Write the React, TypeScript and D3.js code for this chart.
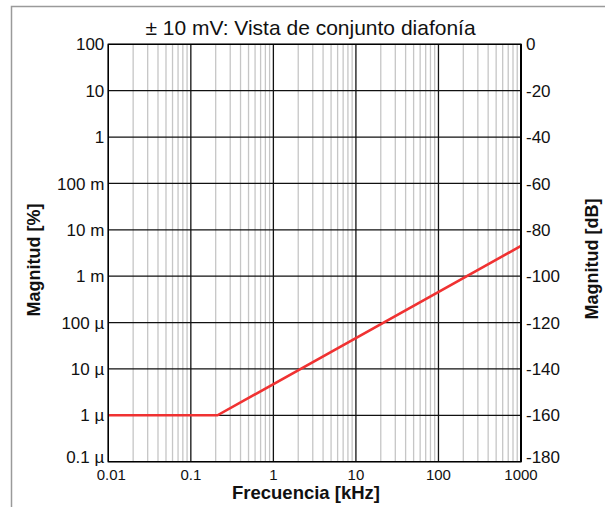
import React from "react";
import * as d3 from "d3";

const title = "± 10 mV: Vista de conjunto diafonía";
const xTitle = "Frecuencia [kHz]";
const yLeftTitle = "Magnitud [%]";
const yRightTitle = "Magnitud [dB]";

const xTickValues = [0.01, 0.1, 1, 10, 100, 1000];
const xTickLabels = ["0.01", "0.1", "1", "10", "100", "1000"];

const yTickValues = [100, 10, 1, 0.1, 0.01, 0.001, 1e-4, 1e-5, 1e-6, 1e-7];
const yTickLabels = ["100", "10", "1", "100 m", "10 m", "1 m", "100 µ", "10 µ", "1 µ", "0.1 µ"];
const dbTickLabels = ["0", "-20", "-40", "-60", "-80", "-100", "-120", "-140", "-160", "-180"];

// crosstalk curve (kHz, %)
const freqKHz = [0.01, 0.21, 1000];
const magnitudePct = [1e-6, 1e-6, 4.5e-3];

const W = 605;
const H = 507;
const M = { left: 108.3, right: 521, top: 44.3, bottom: 461.7 };
const FONT = "'Liberation Sans', Arial, Helvetica, sans-serif";

export default function App() {
  const x = d3.scaleLog().domain([0.01, 1000]).range([M.left, M.right]);
  const y = d3.scaleLog().domain([1e-7, 100]).range([M.bottom, M.top]);

  const minorX: number[] = [];
  for (let e = -2; e < 3; e++) {
    for (let k = 2; k <= 9; k++) minorX.push(k * Math.pow(10, e));
  }

  const line = d3
    .line<number>()
    .x((_, i) => x(freqKHz[i]))
    .y((d) => y(d));

  const nY = yTickValues.length;

  return (
    <svg
      width={W}
      height={H}
      style={{ position: "absolute", left: 0, top: 0, background: "#fff" }}
      fontFamily={FONT}
    >
      <rect x={11.5} y={6.5} width={620} height={520} fill="none" stroke="#9a9a9a" strokeWidth={1.5} />

      {minorX.map((v, i) => (
        <line key={"mx" + i} x1={x(v)} x2={x(v)} y1={M.top} y2={M.bottom} stroke="#c6c6c6" strokeWidth={1.3} />
      ))}
      {xTickValues.map((v, i) => (
        <line key={"Mx" + i} x1={x(v)} x2={x(v)} y1={M.top} y2={M.bottom} stroke="#111" strokeWidth={1.3} />
      ))}
      {yTickValues.map((v, i) => (
        <line key={"My" + i} x1={M.left} x2={M.right} y1={y(v)} y2={y(v)} stroke="#111" strokeWidth={1.3} />
      ))}

      <path
        d={line(magnitudePct) || ""}
        fill="none"
        stroke="#f03232"
        strokeWidth={2.6}
        strokeLinejoin="miter"
      />

      <rect
        x={M.left}
        y={M.top}
        width={M.right - M.left}
        height={M.bottom - M.top}
        fill="none"
        stroke="#000"
        strokeWidth={1.4}
      />
      <line x1={M.right} x2={M.right} y1={M.top} y2={M.bottom} stroke="#000" strokeWidth={2} />

      <text x={310.5} y={35} fontSize={21} textAnchor="middle" fill="#111">
        {title}
      </text>

      {yTickValues.map((v, i) => (
        <text
          key={"yl" + i}
          x={M.left - 4}
          y={y(v) - (i === nY - 1 ? 5 : 0)}
          dy="0.36em"
          fontSize={17}
          textAnchor="end"
          fill="#111"
        >
          {yTickLabels[i]}
        </text>
      ))}
      {yTickValues.map((v, i) => (
        <text
          key={"yr" + i}
          x={M.right + 5}
          y={y(v) - (i === nY - 1 ? 5 : 0)}
          dy="0.36em"
          fontSize={17}
          textAnchor="start"
          fill="#111"
        >
          {dbTickLabels[i]}
        </text>
      ))}
      {xTickValues.map((v, i) => (
        <text
          key={"xl" + i}
          x={x(v) + (i === 0 ? 3 : 0)}
          y={479.5}
          fontSize={15}
          textAnchor="middle"
          fill="#111"
        >
          {xTickLabels[i]}
        </text>
      ))}

      <text x={306} y={499.3} fontSize={18.5} fontWeight="bold" textAnchor="middle" fill="#111">
        {xTitle}
      </text>
      <text
        transform="translate(39.5,260) rotate(-90)"
        fontSize={18}
        fontWeight="bold"
        textAnchor="middle"
        fill="#111"
      >
        {yLeftTitle}
      </text>
      <text
        transform="translate(597.5,259) rotate(-90)"
        fontSize={18}
        fontWeight="bold"
        textAnchor="middle"
        fill="#111"
      >
        {yRightTitle}
      </text>
    </svg>
  );
}
